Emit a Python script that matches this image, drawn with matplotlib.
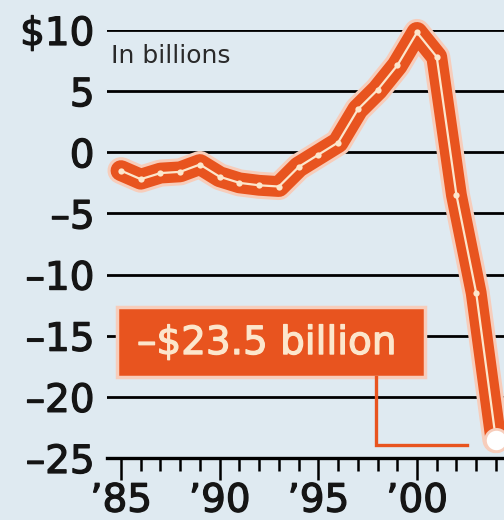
import matplotlib.pyplot as plt
import matplotlib.patheffects as pe
from matplotlib.patches import Rectangle

# --- data (billions of dollars) ---
years = [1985, 1986, 1987, 1988, 1989, 1990, 1991, 1992, 1993, 1994,
         1995, 1996, 1997, 1998, 1999, 2000, 2001, 2002, 2003, 2004]
balance = [-1.5, -2.2, -1.7, -1.6, -1.0, -2.0, -2.5, -2.7, -2.8, -1.2,
           -0.2, 0.8, 3.5, 5.1, 7.1, 9.8, 7.8, -3.5, -11.5, -23.5]
y_ticks = [10, 5, 0, -5, -10, -15, -20, -25]
y_labels = ['$10', '5', '0', '–5', '–10', '–15', '–20', '–25']
x_ticks = [1985, 1990, 1995, 2000]
x_labels = ['’85', '’90', '’95', '’00']
callout = '–$23.5 billion'

ORANGE = '#E8541F'
HALO = '#F7CDBB'
CREAM = '#FCE6CC'
BG = '#DFEAF1'
INK = '#151515'

plt.rcParams['font.family'] = ['DejaVu Sans']

def heavy(color, w=0.9):
    # fake a medium weight by stroking the glyphs
    return [pe.withStroke(linewidth=w, foreground=color)]

fig = plt.figure(figsize=(5.04, 5.2), dpi=100, facecolor=BG)
ax = fig.add_axes([107 / 504, 1 - 458 / 520, 397 / 504, 428 / 520])
ax.set_facecolor(BG)
ax.set_xlim(1984.29, 2004.41)
ax.set_ylim(-25, 10)

for s in ['top', 'right', 'left']:
    ax.spines[s].set_visible(False)
ax.spines['bottom'].set_linewidth(2.4)

# gridlines
for v in y_ticks[:-1]:
    ax.axhline(v, color='black', lw=2.0, zorder=1)

ax.set_yticks(y_ticks)
ax.set_yticklabels(y_labels, fontsize=28, color=INK)
ax.tick_params(axis='y', length=0, pad=9)

ax.set_xticks(x_ticks)
ax.set_xticklabels(x_labels, fontsize=28, color=INK)
ax.set_xticks(years, minor=True)
ax.tick_params(axis='x', which='major', direction='out', length=16, width=1.8, pad=1)
ax.tick_params(axis='x', which='minor', direction='out', length=9, width=1.8)

for lab in ax.get_yticklabels() + ax.get_xticklabels():
    lab.set_path_effects(heavy(INK))

ax.text(1984.5, 7.9, 'In billions', fontsize=18, va='center', ha='left',
        color='#2a2a2a', zorder=2)

# the line: halo, orange band, cream centre, cream dots
ax.plot(years, balance, color=HALO, lw=19.5, solid_joinstyle='round',
        solid_capstyle='round', zorder=3, clip_on=False)
ax.plot(years, balance, color=ORANGE, lw=15, solid_joinstyle='round',
        solid_capstyle='round', zorder=4, clip_on=False)
ax.plot(years, balance, color=CREAM, lw=1.6, zorder=5, clip_on=False)
ax.plot(years[:-1], balance[:-1], 'o', color=CREAM, ms=4.5, mew=0, zorder=6, clip_on=False)
ax.plot(years[-1], balance[-1], 'o', color='white', mec=HALO, mew=2, ms=16,
        zorder=7, clip_on=False)

# callout box
ax.add_patch(Rectangle((1984.8, -18.37), 15.6, 5.72, facecolor=ORANGE,
                       edgecolor=HALO, lw=2.5, zorder=8, clip_on=False))
ax.text(1992.37, -15.6, callout, color=CREAM, fontsize=28, ha='center',
        va='center', zorder=9, path_effects=heavy(CREAM))
ax.plot([1997.92, 1997.92, 2002.53], [-18.37, -23.93, -23.93], color=ORANGE,
        lw=2.4, solid_joinstyle='miter', zorder=8, clip_on=False)

fig.savefig('out.png', dpi=100, facecolor=BG)
